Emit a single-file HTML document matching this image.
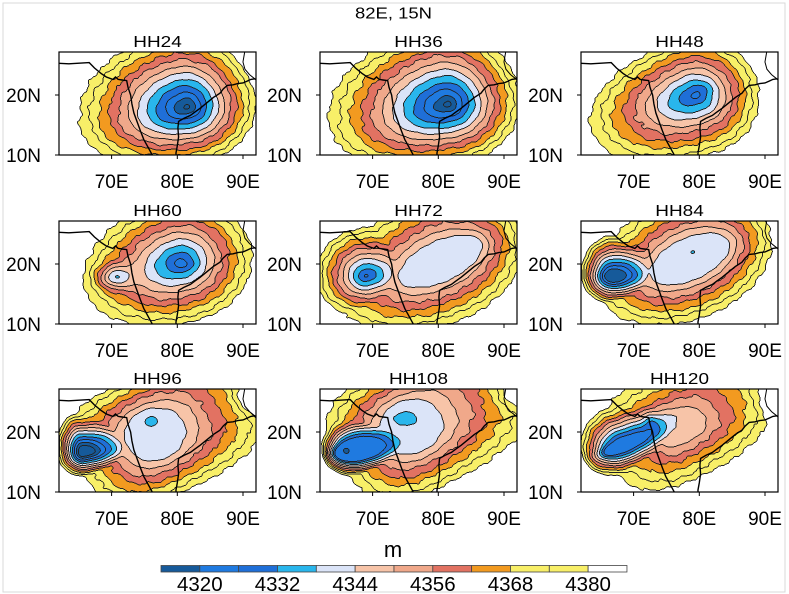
<!DOCTYPE html>
<html><head><meta charset="utf-8">
<style>
html,body{margin:0;padding:0;background:#fff;}
#wrap{position:relative;width:789px;height:594px;overflow:hidden;background:#fff;}
canvas{position:absolute;width:197px;height:103px;}
svg{position:absolute;left:0;top:0;}
text{font-family:"Liberation Sans",Arial,sans-serif;fill:#000;}
</style></head><body>
<div id="wrap">
<canvas id="c0" width="394" height="206" style="left:59px;top:52px"></canvas>
<canvas id="c1" width="394" height="206" style="left:320px;top:52px"></canvas>
<canvas id="c2" width="394" height="206" style="left:581px;top:52px"></canvas>
<canvas id="c3" width="394" height="206" style="left:59px;top:221px"></canvas>
<canvas id="c4" width="394" height="206" style="left:320px;top:221px"></canvas>
<canvas id="c5" width="394" height="206" style="left:581px;top:221px"></canvas>
<canvas id="c6" width="394" height="206" style="left:59px;top:389px"></canvas>
<canvas id="c7" width="394" height="206" style="left:320px;top:389px"></canvas>
<canvas id="c8" width="394" height="206" style="left:581px;top:389px"></canvas>
<svg id="ov" width="789" height="594" viewBox="0 0 789 594" xmlns="http://www.w3.org/2000/svg">
<defs><clipPath id="bx" clipPathUnits="userSpaceOnUse"><rect x="0" y="0" width="197" height="103"/></clipPath>
<g id="coast">
<polyline fill="none" stroke="#000" stroke-width="1.4" vector-effect="non-scaling-stroke" points="61.5,25.3 63.5,25.2 66.6,25.4 67.4,24.5 68.4,23.6 69.2,23.0 70.2,22.6 70.6,23.0 71.0,22.6 71.6,22.5 72.3,22.4 72.5,21.3 72.9,20.0 73.1,18.5 73.4,17.0 73.9,15.5 74.4,14.0 74.9,12.6 75.6,11.2 76.2,10.0 76.6,9.0"/>
<polyline fill="none" stroke="#000" stroke-width="1.4" vector-effect="non-scaling-stroke" points="79.9,9.0 79.8,10.3 80.0,11.5 80.2,13.0 80.1,14.5 80.2,15.6 81.0,16.1 82.0,16.6 82.6,17.1 83.5,17.8 84.5,18.7 85.5,19.6 86.5,20.3 87.0,21.0 87.6,21.6 88.5,21.7 89.2,21.9 90.0,22.0 90.6,22.3 91.2,22.6 91.8,22.7 92.4,22.2"/>
<polyline fill="none" stroke="#000" stroke-width="1.0" vector-effect="non-scaling-stroke" points="90.3,27.4 90.0,25.5 90.3,24.3 91.0,23.4 91.8,22.7"/>
</g>
</defs>
<rect x="3" y="3" width="782" height="589" fill="none" stroke="#d9d9d9" stroke-width="1"/>
<text x="355" y="18.5" font-size="16" textLength="77" lengthAdjust="spacingAndGlyphs">82E, 15N</text>
<g id="panels"></g>
<g stroke="#444" stroke-width="0.8">
<rect x="161" y="565.5" width="38.83" height="6.5" fill="#165a9a"/>
<rect x="199.83" y="565.5" width="38.83" height="6.5" fill="#1f7ae0"/>
<rect x="238.66" y="565.5" width="38.83" height="6.5" fill="#1f6fd8"/>
<rect x="277.49" y="565.5" width="38.83" height="6.5" fill="#29b6ec"/>
<rect x="316.32" y="565.5" width="38.83" height="6.5" fill="#dbe4f8"/>
<rect x="355.15" y="565.5" width="38.83" height="6.5" fill="#f7c4a8"/>
<rect x="393.98" y="565.5" width="38.83" height="6.5" fill="#f0a88a"/>
<rect x="432.81" y="565.5" width="38.83" height="6.5" fill="#e27262"/>
<rect x="471.64" y="565.5" width="38.83" height="6.5" fill="#f29a20"/>
<rect x="510.47" y="565.5" width="38.83" height="6.5" fill="#f8ef68"/>
<rect x="549.30" y="565.5" width="38.83" height="6.5" fill="#f8ef68"/>
<rect x="588.13" y="565.5" width="38.83" height="6.5" fill="#ffffff"/>
</g>
<text x="393" y="557" font-size="22" text-anchor="middle">m</text>
<g font-size="20.5" text-anchor="middle">
<text x="199.8" y="591">4320</text>
<text x="277.5" y="591">4332</text>
<text x="355.2" y="591">4344</text>
<text x="432.8" y="591">4356</text>
<text x="510.5" y="591">4368</text>
<text x="588.1" y="591">4380</text>
</g>
</svg>
</div>
<script>
(function(){
var NS="http://www.w3.org/2000/svg";
var colsX=[59,320,581], rowsY=[52,221,389];
var titles=["HH24","HH36","HH48","HH60","HH72","HH84","HH96","HH108","HH120"];
var tlen=[48.5,48.5,48.5,48.5,48.5,48.5,48.5,59,59];
var g=document.getElementById("panels");
function el(n,a,p){var e=document.createElementNS(NS,n);for(var k in a)e.setAttribute(k,a[k]);(p||g).appendChild(e);return e;}
for(var k=0;k<9;k++){
  var bx=colsX[k%3], by=rowsY[Math.floor(k/3)];
  var gg=el("g",{transform:"translate("+bx+","+by+")"});
  var cg=el("g",{"clip-path":"url(#bx)"},gg);
  var inner=el("g",{transform:"matrix(6.57,0,0,-6,-407.34,163)"},cg);
  el("use",{href:"#coast"},inner);
  el("rect",{x:0,y:0,width:197,height:103,fill:"none",stroke:"#000","stroke-width":1.2},gg);
  var tx=[52.6,118.3,184];
  for(var i=0;i<3;i++){el("line",{x1:tx[i],y1:103,x2:tx[i],y2:107,stroke:"#000","stroke-width":1},gg);}
  el("line",{x1:0,y1:43,x2:-4,y2:43,stroke:"#000","stroke-width":1},gg);
  el("line",{x1:0,y1:103,x2:-4,y2:103,stroke:"#000","stroke-width":1},gg);
  var t=el("text",{x:98.5-tlen[k]/2,y:-5,"font-size":16,textLength:tlen[k],lengthAdjust:"spacingAndGlyphs"},gg);t.textContent=titles[k];
  var lb=["70E","80E","90E"];
  for(var i=0;i<3;i++){var tt=el("text",{x:tx[i],y:136,"font-size":19,"text-anchor":"middle"},gg);tt.textContent=lb[i];}
  var y1=el("text",{x:-18,y:49.8,"font-size":19,"text-anchor":"end"},gg);y1.textContent="20N";
  var y2=el("text",{x:-18,y:109.8,"font-size":19,"text-anchor":"end"},gg);y2.textContent="10N";
}

var P=[
 {cones:[{x:81.5,y:18,c:4311,t:12,w:16.5,e:10.5,n:12.5,s:9.5,p:0.95}],dips:[]},
 {cones:[{x:81.5,y:18.4,c:4311,t:14,w:18.5,e:11,n:13,s:10,p:0.95}],dips:[]},
 {cones:[{x:79.5,y:20,c:4323,t:22,w:17,e:9.5,n:9.5,s:10,p:1}],dips:[{x:81,y:21.2,A:3,sx:1.1,sy:0.8}]},
 {cones:[{x:80.5,y:20.3,c:4323,t:20,w:15,e:11,n:10.5,s:10,p:1}],dips:[{x:81.5,y:19.8,A:3,sx:1.3,sy:0.9},{x:70.3,y:17.8,A:24,sx:2.6,sy:2.0}]},
 {cones:[{x:80.5,y:20.5,c:4341,t:28,iw:6.3,ie:6.3,"in":2.8,is:2.8,w:17,e:13,n:11,s:10},{x:69,y:18,c:4324,t:10,w:7.5,e:11,n:8,s:6.5}],dips:[]},
 {cones:[{x:78.7,y:20.8,c:4341,t:28,iw:6,ie:6,"in":3,is:2.8,w:15,e:13,n:10.5,s:9.5},{x:67,y:18,c:4316,t:5,iw:1.2,ie:1.4,"in":0.8,is:0.8,w:4.9,e:10,n:6.7,s:4.6}],dips:[{x:79,y:22,A:4,sx:0.6,sy:0.5}]},
 {cones:[{x:76.5,y:19.6,c:4341,t:28,iw:3.8,ie:3.8,"in":3.8,is:3.8,w:12.5,e:17,n:10,s:10.5,q:3},{x:65.6,y:16.6,c:4310,t:8,w:3.8,e:11,n:6.5,s:4,r0:0.12}],dips:[{x:76,y:21.7,A:6,sx:1.1,sy:1.0},{x:92.5,y:26,A:-25,sx:3,sy:2.5}]},
 {cones:[{x:75.8,y:20.8,c:4341,t:30,iw:4,ie:4,"in":4,is:3.8,w:12,e:18.5,n:10.5,s:11,q:3},{x:67.8,y:17,c:4321,t:12,iw:3.4,ie:3.4,"in":1.8,is:1.6,w:5.5,e:14,n:6,s:4.2}],dips:[{x:75,y:22.2,A:7,sx:1.8,sy:1.2},{x:66,y:16.8,A:3,sx:0.4,sy:0.4},{x:92.5,y:26.5,A:-20,sx:3,sy:2}]},
 {cones:[{x:77,y:20.5,c:4346,t:30,w:12,e:15,n:10,s:8.5,r0:0.2,q:2.5},{x:68.3,y:17.7,c:4322,t:25,iw:2.8,ie:3.3,"in":1.0,is:0.9,w:6.3,e:16,n:6.5,s:4.5}],dips:[{x:74,y:22,A:6,sx:3,sy:1.8,t:40},{x:72.5,y:22,A:5,sx:1,sy:1.8},{x:92,y:26,A:-20,sx:2.5,sy:3}]}
];
var COLS=["#165a9a","#1f7ae0","#1f6fd8","#29b6ec","#dbe4f8","#f7c4a8","#f0a88a","#e27262","#f29a20","#f8ef68","#f8ef68","#ffffff"];
var RGB=COLS.map(function(c){return [parseInt(c.substr(1,2),16),parseInt(c.substr(3,2),16),parseInt(c.substr(5,2),16)];});
function coneVal(c,lon,lat){
  var t=(c.t||0)*Math.PI/180,dx=lon-c.x,dy=lat-c.y;
  var u=dx*Math.cos(t)+dy*Math.sin(t), v=-dx*Math.sin(t)+dy*Math.cos(t);
  var a=u<0?c.w:c.e, b=v<0?c.s:c.n, q=c.q||2;
  var r=Math.pow(Math.pow(Math.abs(u/a),q)+Math.pow(Math.abs(v/b),q),1/q);
  var gg;
  if(c.iw){
    var ai=u<0?c.iw:c.ie, bi=v<0?c.is:c["in"];
    var rin=Math.sqrt((u/ai)*(u/ai)+(v/bi)*(v/bi));
    if(rin<=1){gg=0;}else{
      var den=1/Math.max(r,1e-6)-1/rin;
      gg=den>0?(1-1/rin)/den:5;
    }
  }else{
    var r0=c.r0||0;
    gg=Math.max(0,r-r0)/(1-r0);
  }
  gg=Math.pow(gg,c.p||1);
  return c.c+(4380-c.c)*gg;
}
var K=2;
function field(p,lon,lat,k){
  var vals=[],m=1e9,i;
  for(i=0;i<p.cones.length;i++){var v=coneVal(p.cones[i],lon,lat);vals.push(v);if(v<m)m=v;}
  var s=0;for(i=0;i<vals.length;i++)s+=Math.exp(-(vals[i]-m)/K);
  var f=m-K*Math.log(s);
  for(i=0;i<p.dips.length;i++){var d=p.dips[i];var t=(d.t||0)*Math.PI/180,dx=lon-d.x,dy=lat-d.y;
    var uu=dx*Math.cos(t)+dy*Math.sin(t),vv=-dx*Math.sin(t)+dy*Math.cos(t);
    f-=d.A*Math.exp(-((uu/d.sx)*(uu/d.sx)+(vv/d.sy)*(vv/d.sy)));}
  var nz=Math.sin(1.9*lon+1.3*lat+k)*0.6+Math.sin(2.9*lat-1.1*lon+2*k)*0.4+Math.sin(5.3*lon+4.1*lat+3*k)*0.2;
  var amp=f>4352?1.4:0.5;
  return f+amp*nz;
}
var W=394,H=206;
for(var k=0;k<9;k++){
  var cv=document.getElementById("c"+k),ctx=cv.getContext("2d");
  var img=ctx.createImageData(W,H),D=img.data;
  var F=new Float32Array(W*H),LI=new Int32Array(W*H);
  for(var j=0;j<H;j++)for(var i=0;i<W;i++){
    var px=(i+0.5)/2,py=(j+0.5)/2;
    var lon=62+px/6.57,lat=27.1667-py/6;
    var f=field(P[k],lon,lat,k);F[j*W+i]=f;
    LI[j*W+i]=f>=4380?99999:Math.floor((f-4320)/6);
  }
  for(var j=0;j<H;j++)for(var i=0;i<W;i++){
    var id=j*W+i,f=F[id];
    var ci=f<4320?0:(f>=4380?11:1+Math.floor((f-4320)/6));
    var c=RGB[ci],l=LI[id],line=false;
    if(i<W-1&&LI[id+1]!==l)line=true;
    if(i>0&&LI[id-1]!==l)line=true;
    if(j<H-1&&LI[id+W]!==l)line=true;
    if(j>0&&LI[id-W]!==l)line=true;
    var o=id*4;
    if(line){D[o]=35;D[o+1]=35;D[o+2]=35;}else{D[o]=c[0];D[o+1]=c[1];D[o+2]=c[2];}
    D[o+3]=255;
  }
  ctx.putImageData(img,0,0);
}
})();
</script>
</body></html>
